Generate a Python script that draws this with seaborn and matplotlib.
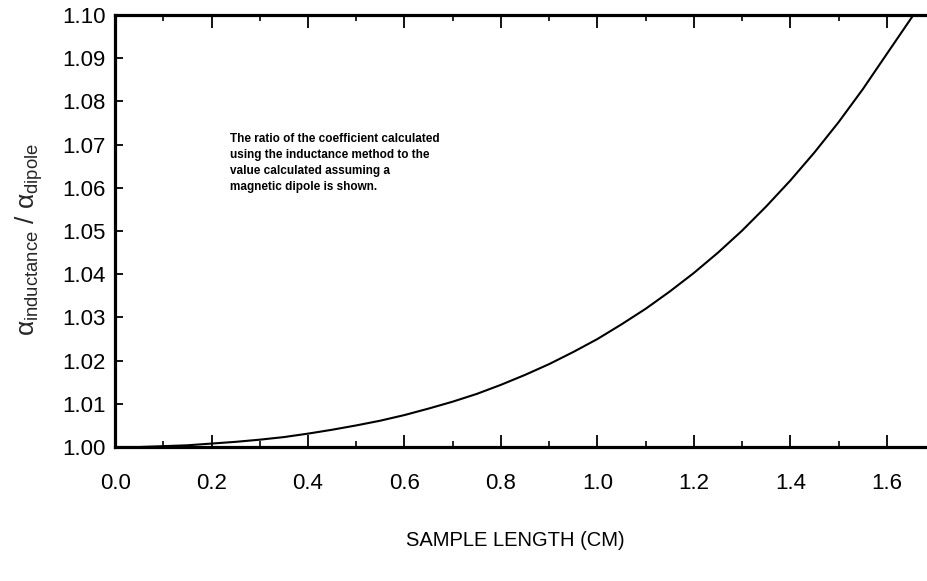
import numpy as np
import pandas as pd
import matplotlib
matplotlib.use("Agg")
import matplotlib.pyplot as plt
from matplotlib.ticker import MultipleLocator
import seaborn as sns

# values
sample_length = [0.0, 0.05, 0.1, 0.15, 0.2, 0.25, 0.3, 0.35, 0.4, 0.45, 0.5,
                 0.55, 0.6, 0.65, 0.7, 0.75, 0.8, 0.85, 0.9, 0.95, 1.0,
                 1.05, 1.1, 1.15, 1.2, 1.25, 1.3, 1.35, 1.4, 1.45, 1.5,
                 1.55, 1.6, 1.655]
alpha_ratio = [1.0000, 1.0000, 1.0002, 1.0004, 1.0008, 1.0012, 1.0017, 1.0023,
               1.0031, 1.0040, 1.0050, 1.0061, 1.0074, 1.0089, 1.0105, 1.0123,
               1.0144, 1.0167, 1.0192, 1.0220, 1.0250, 1.0284, 1.0320, 1.0360,
               1.0403, 1.0450, 1.0501, 1.0557, 1.0617, 1.0682, 1.0752, 1.0828,
               1.0910, 1.1000]
x_ticks = [0.0, 0.2, 0.4, 0.6, 0.8, 1.0, 1.2, 1.4, 1.6]
y_ticks = [1.00, 1.01, 1.02, 1.03, 1.04, 1.05, 1.06, 1.07, 1.08, 1.09, 1.10]
note = ("The ratio of the coefficient calculated\n"
        "using the inductance method to the\n"
        "value calculated assuming a\n"
        "magnetic dipole is shown.")

df = pd.DataFrame({"length": sample_length, "ratio": alpha_ratio})

sns.set_style("ticks")
plt.rcParams["font.family"] = ["Liberation Sans", "DejaVu Sans"]
plt.rcParams["mathtext.fontset"] = "custom"
plt.rcParams["mathtext.rm"] = "Liberation Sans"
plt.rcParams["mathtext.it"] = "Liberation Sans"
plt.rcParams["text.color"] = "black"
plt.rcParams["axes.edgecolor"] = "black"
plt.rcParams["xtick.color"] = "black"
plt.rcParams["ytick.color"] = "black"

fig = plt.figure(figsize=(9.28, 5.81), dpi=100)
ax = fig.add_axes([0.124, 0.2306, 0.8836, 0.7435])

sns.lineplot(data=df, x="length", y="ratio", color="black", linewidth=1.5, ax=ax)

ax.set_xlim(0, 1.7)
ax.set_ylim(1.0, 1.1)
ax.set_xticks(x_ticks)
ax.set_xticklabels([f"{v:.1f}" for v in x_ticks])
ax.set_yticks(y_ticks)
ax.set_yticklabels([f"{v:.2f}" for v in y_ticks])
ax.xaxis.set_minor_locator(MultipleLocator(0.1))

ax.tick_params(axis="x", which="major", direction="in", labelsize=16,
               width=1.3, length=9, top=True, pad=19)
ax.tick_params(axis="x", which="minor", direction="in", top=True,
               width=1.2, length=4.5)
ax.tick_params(axis="y", which="major", direction="in", labelsize=16,
               width=1.3, length=6, right=True, pad=7)

for s in ax.spines.values():
    s.set_linewidth(2.3)
    s.set_visible(True)

ax.set_xlabel("")
ax.set_ylabel(r"$\alpha_{\rm inductance}\ /\ \alpha_{\rm dipole}$", fontsize=19, labelpad=9)
ax.yaxis.set_label_coords(-0.085, 0.48)
fig.text(515 / 928, 1 - 541 / 581, "SAMPLE LENGTH (CM)", ha="center", va="center", fontsize=14.5)

ax.text(0.238, 1.0728, note, fontsize=8.5, fontweight="bold", va="top", ha="left",
        linespacing=1.45)

fig.savefig("out.png", dpi=100)
